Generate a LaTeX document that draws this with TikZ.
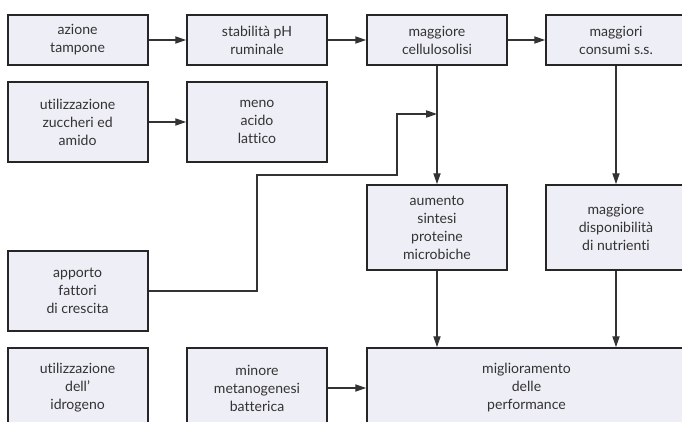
\documentclass[tikz,border=0pt]{standalone}
\usepackage{fontspec}
\setmainfont[Ligatures=NoCommon]{Lato}
\usetikzlibrary{arrows.meta}
\definecolor{boxfill}{HTML}{EEEEF6}

\begin{document}
\begin{tikzpicture}[>={Triangle[length=2.7mm,width=1.8mm]},
  bx/.style={rectangle,draw=black!85,line width=1.3pt,fill=boxfill,minimum width=3.5cm,inner sep=0pt,align=center,text=black!80,font=\fontsize{10}{12.8}\selectfont},
  fl/.style={->,draw=black!80,line width=0.8pt}]
  \useasboundingbox (0,0) rectangle (17.05,10.525);
  \clip (0,0) rectangle (17.05,10.525);
  % first row
  \node[bx,minimum height=1.25cm] (tamp) at (1.94,9.525) {azione\\tampone};
  \node[bx,minimum height=1.25cm] (ph) at (6.425,9.525) {stabilità pH\\ruminale};
  \node[bx,minimum height=1.25cm] (cell) at (10.925,9.525) {maggiore\\cellulosolisi};
  \node[bx,minimum height=1.25cm] (cons) at (15.4,9.525) {maggiori\\consumi s.s.};
  % second row
  \node[bx,minimum height=2cm] (zucc) at (1.94,7.475) {utilizzazione\\zuccheri ed\\amido};
  \node[bx,minimum height=2cm] (latt) at (6.425,7.475) {meno\\acido\\lattico};
  % middle
  \node[bx,minimum height=2.125cm] (prot) at (10.925,4.8375) {aumento\\sintesi\\proteine\\microbiche};
  \node[bx,minimum height=2.125cm] (nutr) at (15.4,4.8375) {maggiore\\disponibilità\\di nutrienti};
  \node[bx,minimum height=2cm] (cresc) at (1.94,3.25) {apporto\\fattori\\di crescita};
  % bottom row
  \node[bx,minimum height=2cm] (idro) at (1.94,0.825) {utilizzazione\\dell'\\idrogeno};
  \node[bx,minimum height=2cm] (metan) at (6.425,0.825) {minore\\metanogenesi\\batterica};
  \node[bx,minimum height=2cm,minimum width=7.975cm] (perf) at (13.1625,0.825) {miglioramento\\delle\\performance};
  \coordinate (join) at (10.925,7.675);
  % arrows
  \draw[fl] (tamp) -- (ph);
  \draw[fl] (ph) -- (cell);
  \draw[fl] (cell) -- (cons);
  \draw[fl] (zucc) -- (latt);
  \draw[fl] (metan) -- (perf);
  \draw[fl] (cell) -- (prot);
  \draw[fl] (cons) -- (nutr);
  \draw[fl] (prot) -- (prot |- perf.north);
  \draw[fl] (nutr) -- (nutr |- perf.north);
  \draw[fl] (cresc.east) -| (6.425,6.15) -| (9.925,7.675) -- (join);
\end{tikzpicture}
\end{document}
